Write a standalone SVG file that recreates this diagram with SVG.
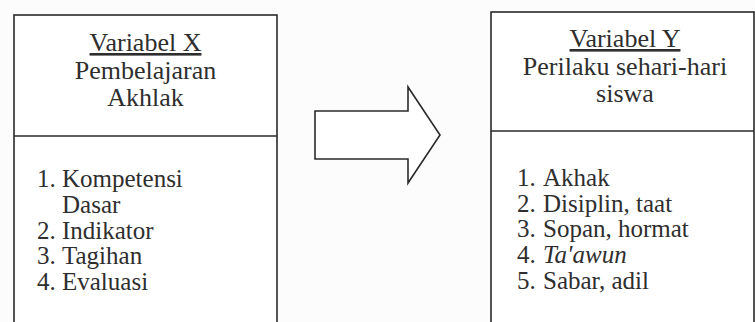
<svg xmlns="http://www.w3.org/2000/svg" width="755" height="322" viewBox="0 0 755 322">
  <style>
    .box { fill: #ffffff; stroke: #2a2a2a; stroke-width: 1.6; }
    .rule { stroke: #2a2a2a; stroke-width: 1.6; }
    .t { font-family: "Liberation Serif", "Times New Roman", serif; font-size: 25px; fill: #2e2e2e; }
    .h { font-size: 26px; }
    .c { text-anchor: middle; }
    .u { text-decoration: underline; }
    .i { font-style: italic; }
    .arrow { fill: #ffffff; stroke: #2a2a2a; stroke-width: 1.6; stroke-linejoin: miter; }
  </style>
  <rect x="0" y="0" width="755" height="322" fill="#fcfcfc"/>

  <!-- Variable X: learning of akhlak -->
  <g id="variabel-x">
    <rect class="box" x="14" y="15" width="263" height="320"/>
    <line class="rule" x1="14" y1="136" x2="277" y2="136"/>
    <text class="t h c u" x="145.5" y="51">Variabel X</text>
    <text class="t h c" x="145.5" y="79">Pembelajaran</text>
    <text class="t h c" x="145.5" y="106">Akhlak</text>
    <text class="t" x="37" y="187">1.</text>
    <text class="t" x="62" y="187">Kompetensi</text>
    <text class="t" x="62" y="213">Dasar</text>
    <text class="t" x="37" y="239">2.</text>
    <text class="t" x="62" y="239">Indikator</text>
    <text class="t" x="37" y="264">3.</text>
    <text class="t" x="62" y="264">Tagihan</text>
    <text class="t" x="37" y="290">4.</text>
    <text class="t" x="62" y="290">Evaluasi</text>
  </g>

  <!-- Variable Y: everyday student behaviour -->
  <g id="variabel-y">
    <rect class="box" x="491" y="12" width="263" height="323"/>
    <line class="rule" x1="491" y1="131" x2="754" y2="131"/>
    <text class="t h c u" x="625" y="47">Variabel Y</text>
    <text class="t h c" x="625" y="75">Perilaku sehari-hari</text>
    <text class="t h c" x="625" y="102">siswa</text>
    <text class="t" x="517" y="186">1.</text>
    <text class="t" x="543" y="186">Akhak</text>
    <text class="t" x="517" y="212">2.</text>
    <text class="t" x="543" y="212">Disiplin, taat</text>
    <text class="t" x="517" y="237">3.</text>
    <text class="t" x="543" y="237">Sopan, hormat</text>
    <text class="t" x="517" y="263">4.</text>
    <text class="t i" x="543" y="263">Ta'awun</text>
    <text class="t" x="517" y="289">5.</text>
    <text class="t" x="543" y="289">Sabar, adil</text>
  </g>

  <!-- Block arrow X to Y -->
  <g id="connectors">
    <polygon class="arrow" points="315,111 408,111 408,87 440,135 408,183 408,159 315,159"/>
  </g>
</svg>
